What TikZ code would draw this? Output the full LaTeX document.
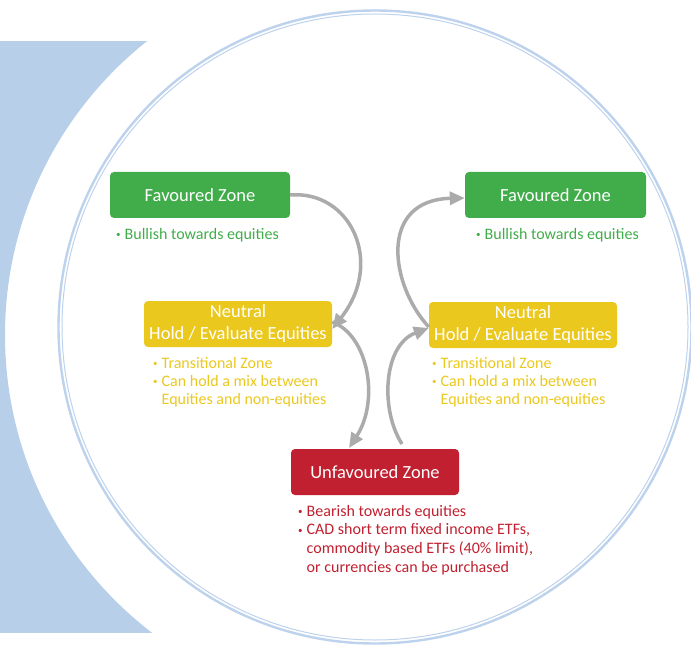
\documentclass[tikz,border=0pt]{standalone}
\usepackage{fontspec}
\setmainfont{Carlito}
\usetikzlibrary{arrows.meta}

\definecolor{ringblue}{HTML}{BDD2EC}
\definecolor{bandblue}{HTML}{B8CFE9}
\definecolor{zonegreen}{HTML}{41AD4A}
\definecolor{zoneyellow}{HTML}{EBC81E}
\definecolor{zonered}{HTML}{C0202F}
\definecolor{flowgrey}{HTML}{ABABAB}

\newcommand{\bul}{\makebox[8.5pt][l]{\raisebox{1.6pt}{\fontsize{9}{9}\selectfont •}}}
\newcommand{\ind}{\hspace*{8.5pt}}

\begin{document}
\begin{tikzpicture}[x=1pt,y=-1pt,
    zone/.style={rounded corners=4pt,minimum height=46pt,inner sep=0pt,
      text=white,font=\fontsize{18.5}{22}\selectfont,align=center},
    notes/.style={anchor=north west,inner sep=0pt,align=left,
      font=\fontsize{16}{18}\selectfont},
    flow/.style={draw=flowgrey,line width=3.5pt,
      -{Triangle[length=15pt,width=13pt]}}]

  \useasboundingbox (0,0) rectangle (691,647);

  %% Draw the band on the left
  \begin{scope}
    \clip (0,42) rectangle (200,632);
    \fill[bandblue,even odd rule] (-20,0) rectangle (300,700) (380,335) circle (375);
  \end{scope}

  %% Draw the double ring
  \draw[ringblue,line width=2.4pt] (375,327) circle (316.5);
  \draw[ringblue,line width=1pt] (375,327) circle (313);

  %% Zone boxes
  \node[zone,fill=zonegreen,minimum width=180pt] (favL) at (200,195) {Favoured Zone};
  \node[zone,fill=zoneyellow,minimum width=188pt] (neutL) at (238,324) {Neutral\\Hold / Evaluate Equities};
  \node[zone,fill=zonered,minimum width=168pt] (unfav) at (375,472) {Unfavoured Zone};
  \node[zone,fill=zoneyellow,minimum width=188pt] (neutR) at (523,325) {Neutral\\Hold / Evaluate Equities};
  \node[zone,fill=zonegreen,minimum width=181pt] (favR) at (555.5,195) {Favoured Zone};

  %% Add the bullet text (first baseline sits 12.6pt under the top)
  \node[notes,text=zonegreen] (favLnotes) at (116,226.4) {\strut\bul Bullish towards equities};
  \node[notes,text=zoneyellow] (neutLnotes) at (153,355.4)
    {\strut\bul Transitional Zone\\\bul Can hold a mix between\\\ind Equities and non-equities};
  \node[notes,text=zonered,font=\fontsize{16}{18.7}\selectfont] (unfavnotes) at (298,502.9)
    {\strut\bul Bearish towards equities\\\bul CAD short term fixed income ETFs,\\\ind commodity based ETFs (40\% limit),\\\ind or currencies can be purchased};
  \node[notes,text=zoneyellow] (neutRnotes) at (432,355.4)
    {\strut\bul Transitional Zone\\\bul Can hold a mix between\\\ind Equities and non-equities};
  \node[notes,text=zonegreen] (favRnotes) at (476,226.4) {\strut\bul Bullish towards equities};

  %% Draw the cycle arrows
  \coordinate (unfavout) at (402,444);
  \draw[flow] (favL.east) .. controls (350,190) and (385,262) .. ([yshift=-5pt]neutL.east);
  \draw[flow] ([yshift=2pt]neutL.east) .. controls (368,335) and (380,400) .. (349,448);
  \draw[flow] (unfavout) .. controls (380,410) and (383,345) .. ([yshift=-3pt]neutR.west);
  \draw[flow] ([yshift=-2pt]neutR.west) .. controls (390,285) and (378,200) .. ([yshift=-3pt]favR.west);

\end{tikzpicture}
\end{document}
